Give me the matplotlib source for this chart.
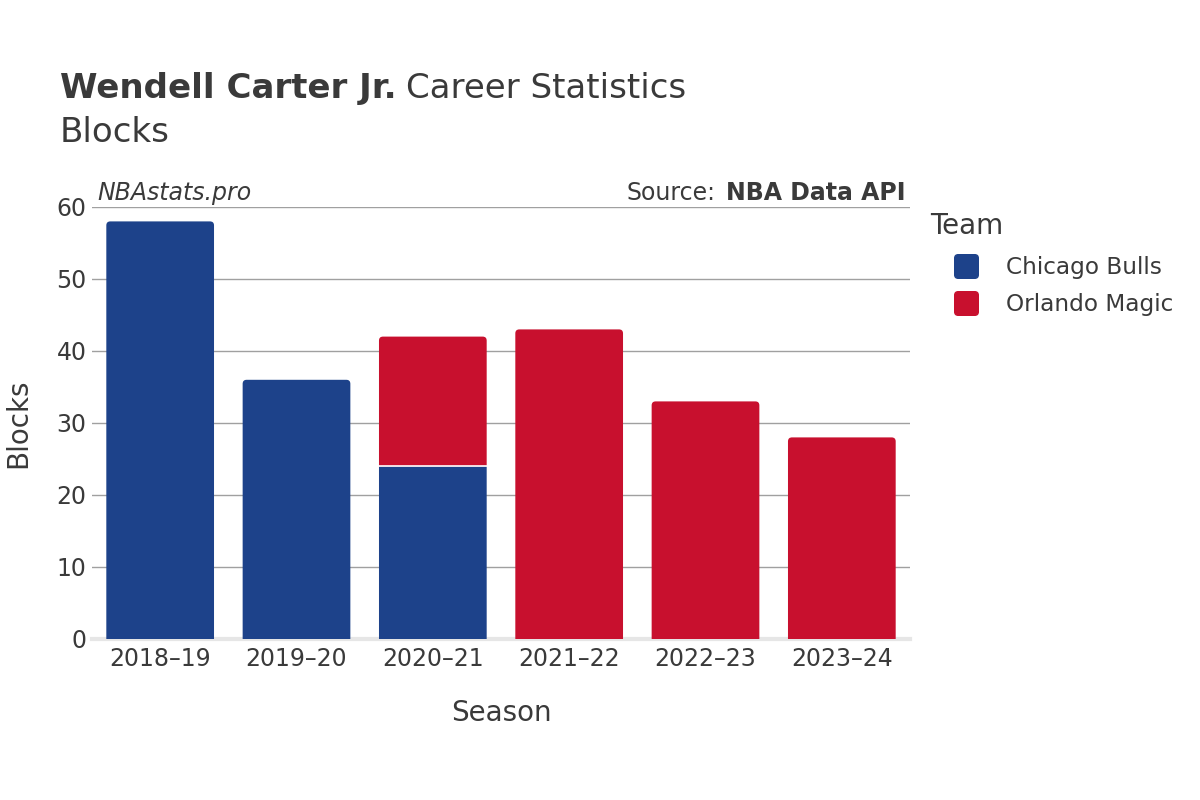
import matplotlib
matplotlib.use("Agg")
import matplotlib.pyplot as plt
from matplotlib.patches import PathPatch
from matplotlib.path import Path
from matplotlib.lines import Line2D

seasons = ["2018–19", "2019–20", "2020–21", "2021–22", "2022–23", "2023–24"]
bulls = [58, 36, 24, 0, 0, 0]
magic = [0, 0, 18, 43, 33, 28]
teams = ["Chicago Bulls", "Orlando Magic"]
colors = ["#1d428a", "#c8102e"]

txt = "#3a3a3a"
plt.rcParams['font.family'] = ['DejaVu Sans']

fig = plt.figure(figsize=(12, 8), dpi=100)
ax = fig.add_axes([92 / 1200, 0.20125, 818 / 1200, 0.54])
ax.set_xlim(-0.5, len(seasons) - 0.5)
ax.set_ylim(0, 60)

w = 0.79
rx = 4 * 6 / 818     # ~4px corner radius in data units
ry = 4 * 60 / 432


def top_rounded(x0, y0, x1, y1, rx, ry):
    verts = [(x0, y0), (x0, y1 - ry), (x0, y1), (x0 + rx, y1),
             (x1 - rx, y1), (x1, y1), (x1, y1 - ry), (x1, y0), (x0, y0)]
    codes = [Path.MOVETO, Path.LINETO, Path.CURVE3, Path.CURVE3,
             Path.LINETO, Path.CURVE3, Path.CURVE3, Path.LINETO, Path.CLOSEPOLY]
    return Path(verts, codes)


for i in range(len(seasons)):
    b, m = bulls[i], magic[i]
    if b > 0:
        ry_b = ry if m == 0 else 0.0001
        rx_b = rx if m == 0 else 0.0001
        ax.add_patch(PathPatch(top_rounded(i - w / 2, 0, i + w / 2, b, rx_b, ry_b),
                               fc=colors[0], ec="none", zorder=3))
    if m > 0:
        ax.add_patch(PathPatch(top_rounded(i - w / 2, b, i + w / 2, b + m, rx, ry),
                               fc=colors[1], ec="none", zorder=3))
    if b > 0 and m > 0:
        ax.plot([i - w / 2, i + w / 2], [b, b], color="white", lw=1.2, zorder=5)

ax.set_yticks(range(0, 61, 10))
ax.yaxis.grid(True, color="#a0a0a0", lw=1)
ax.set_axisbelow(True)
for s in ["top", "right", "left"]:
    ax.spines[s].set_visible(False)
ax.spines["bottom"].set_color("#e6e6e6")
ax.spines["bottom"].set_linewidth(3)
ax.spines["bottom"].set_zorder(2)
ax.set_xticks(range(len(seasons)))
ax.set_xticklabels(seasons)
ax.tick_params(axis="both", length=0, labelsize=17, labelcolor=txt, pad=6)
ax.tick_params(axis="y", pad=4)
ax.set_xlabel("Season", fontsize=20, color=txt, labelpad=20)
ax.set_ylabel("Blocks", fontsize=20, color=txt, labelpad=17)

# title
t1 = fig.text(0.05, 0.877, "Wendell Carter Jr.", fontsize=24.5, fontweight="bold",
              color=txt, va="baseline")
fig.canvas.draw()
bb = t1.get_window_extent()
fig.text(bb.x1 / 1200 + 0.008, 0.877, "Career Statistics", fontsize=24.5,
         color=txt, va="baseline")
fig.text(0.05, 0.822, "Blocks", fontsize=24.5, color=txt, va="baseline")

fig.text(0.081, 0.75, "NBAstats.pro", fontsize=17, style="italic",
         color=txt, va="baseline")
s2 = fig.text(0.755, 0.75, "NBA Data API", fontsize=17, fontweight="bold",
              color=txt, va="baseline", ha="right")
fig.canvas.draw()
bb2 = s2.get_window_extent()
fig.text(bb2.x0 / 1200 - 0.0095, 0.75, "Source:", fontsize=17,
         color=txt, va="baseline", ha="right")

# legend with rounded square markers
verts = [(-1, -0.7), (-1, 0.7), (-1, 1), (-0.7, 1), (0.7, 1), (1, 1), (1, 0.7),
         (1, -0.7), (1, -1), (0.7, -1), (-0.7, -1), (-1, -1), (-1, -0.7), (-1, -0.7)]
codes = [Path.MOVETO, Path.LINETO, Path.CURVE3, Path.CURVE3, Path.LINETO,
         Path.CURVE3, Path.CURVE3, Path.LINETO, Path.CURVE3, Path.CURVE3,
         Path.LINETO, Path.CURVE3, Path.CURVE3, Path.CLOSEPOLY]
rmark = Path(verts, codes)

fig.text(930 / 1200, 1 - 226 / 800, "Team", fontsize=20, color=txt, va="center")
handles = [Line2D([], [], marker=rmark, linestyle="none", markersize=17,
                  markerfacecolor=col, markeredgecolor=col) for col in colors]
leg = fig.legend(handles, teams, loc="upper left",
                 bbox_to_anchor=(943 / 1200, 1 - 256 / 800),
                 frameon=False, fontsize=16.7, borderpad=0, borderaxespad=0,
                 handletextpad=0.72, labelspacing=0.6)
for t in leg.get_texts():
    t.set_color(txt)

fig.savefig("out.png", dpi=100)
